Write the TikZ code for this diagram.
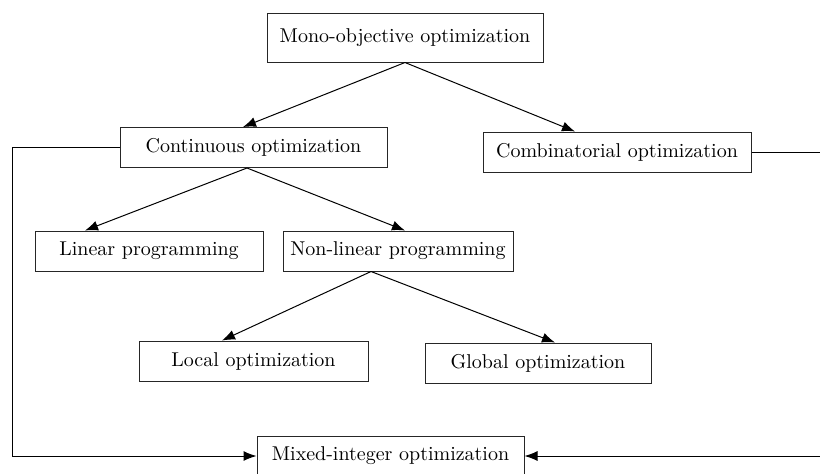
\documentclass[tikz,border=0pt]{standalone}
\usetikzlibrary{arrows.meta,calc}
\begin{document}
\begin{tikzpicture}[x=0.5pt,y=-0.5pt,
  box/.style={draw=black!85,line width=0.5pt,rectangle,inner sep=0pt,minimum height=20pt},
  link/.style={line width=0.5pt,-{Latex[length=6.5pt,width=5pt]}},
  wire/.style={line width=0.5pt}]
\useasboundingbox (0,0) rectangle (820,473);
\clip (0,0) rectangle (820,473);

% optimization problem classes
\node[box,minimum width=138pt,minimum height=24.5pt] (mono)  at (405,37.5) {Mono-objective optimization};
\node[box,minimum width=133.5pt] (cont)  at (253.5,147.5) {Continuous optimization};
\node[box,minimum width=134pt]   (comb)  at (617,152)   {Combinatorial optimization};
\node[box,minimum width=114pt]   (lin)   at (149,251)   {Linear programming};
\node[box,minimum width=115pt]   (nonlin) at (398,251)  {Non-linear programming};
\node[box,minimum width=114.5pt] (local) at (253.5,361) {Local optimization};
\node[box,minimum width=113pt]   (global) at (538,363)  {Global optimization};
\node[box,minimum width=133.5pt] (mixed) at (390.5,456) {Mixed-integer optimization};

% hierarchy
\draw[link] (mono.south) -- ([xshift=-5.25pt]cont.north);
\draw[link] (mono.south) -- ([xshift=-21pt]comb.north);
\draw[link] ([xshift=-3.25pt]cont.south) -- ([xshift=-32pt]lin.north);
\draw[link] ([xshift=-3.25pt]cont.south) -- ([xshift=3.5pt]nonlin.north);
\draw[link] ([xshift=-13.5pt]nonlin.south) -- ([xshift=-15.75pt]local.north);
\draw[link] ([xshift=-13.5pt]nonlin.south) -- ([xshift=8.5pt]global.north);

% both branches feed mixed-integer optimization
\coordinate (lrail) at (12,0);
\coordinate (rrail) at (820,0);
\draw[link] (cont.west) -- (cont.west -| lrail) |- (mixed.west);
\draw[wire] (comb.east) -- (comb.east -| rrail);
\draw[link] (mixed.east -| rrail) -- (mixed.east);
\end{tikzpicture}
\end{document}
